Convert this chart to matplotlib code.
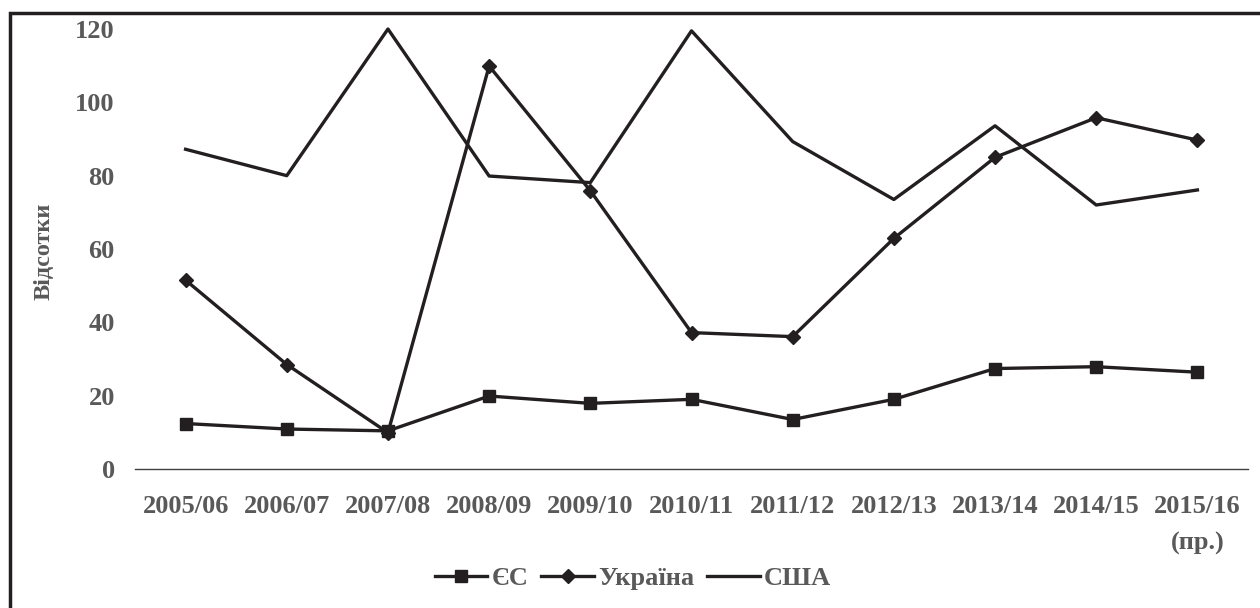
import matplotlib
matplotlib.use("Agg")
import matplotlib.pyplot as plt
from matplotlib.patches import Rectangle

# Data
years = ["2005/06", "2006/07", "2007/08", "2008/09", "2009/10", "2010/11",
         "2011/12", "2012/13", "2013/14", "2014/15", "2015/16\n(пр.)"]
eu = [12.4, 10.9, 10.4, 19.9, 17.9, 19.0, 13.5, 19.0, 27.4, 27.9, 26.4]
ukraine = [51.5, 28.5, 9.9, 109.9, 75.9, 37.2, 36.1, 62.9, 85.0, 95.8, 89.7]
usa = [87.2, 80.0, 120.0, 79.9, 78.1, 119.5, 89.3, 73.5, 93.6, 72.0, 76.1]

series_names = ["ЄС", "Україна", "США"]

text_color = "#595959"
line_color = "#231f20"
fs = 19

plt.rcParams['font.family'] = ['Liberation Serif', 'DejaVu Serif']
plt.rcParams['font.weight'] = 'bold'
plt.rcParams['font.size'] = fs

fig = plt.figure(figsize=(12.6, 6.08), dpi=100)
ax = fig.add_axes([135 / 1260, 1 - 469 / 608, (1248 - 135) / 1260, 440 / 608])

x = list(range(len(years)))
ax.plot(x, eu, color=line_color, lw=2.4, marker="s", markersize=8,
        label=series_names[0], clip_on=False)
ax.plot(x, ukraine, color=line_color, lw=2.4, marker="D", markersize=7,
        label=series_names[1], clip_on=False)
ax.plot(x, usa, color=line_color, lw=2.4, label=series_names[2], clip_on=False)

ax.set_xlim(-0.5, len(years) - 0.5)
ax.set_ylim(0, 120)
ax.set_yticks(range(0, 121, 20))
ax.set_xticks(x)
ax.set_xticklabels(years, linespacing=1.75, va="top")

for side in ["top", "right", "left"]:
    ax.spines[side].set_visible(False)
ax.spines["bottom"].set_color("#404040")
ax.spines["bottom"].set_linewidth(1.0)

ax.tick_params(axis="both", length=0, colors=text_color, labelsize=fs)
ax.tick_params(axis="y", pad=14.5)
ax.tick_params(axis="x", pad=19)
for lbl in ax.get_xticklabels() + ax.get_yticklabels():
    lbl.set_fontweight("bold")

fig.text(44 / 1260, 1 - 251 / 608, "Відсотки", rotation=90, ha="center",
         va="center", color=text_color, fontsize=17.5, fontweight="bold")

leg = fig.legend(loc="center", bbox_to_anchor=(633 / 1260, 1 - 578 / 608), ncol=3,
                 frameon=False, handlelength=2.0, handletextpad=0.15,
                 columnspacing=0.5, fontsize=fs)
for t in leg.get_texts():
    t.set_color(text_color)
    t.set_fontweight("bold")

# outer chart frame (right and bottom edges fall outside the picture)
fig.patches.append(Rectangle((10 / 1260, -0.05), 1.2, 1 - 12.5 / 608 + 0.05,
                             transform=fig.transFigure, fill=False,
                             edgecolor="#231f20", lw=2.5))

fig.savefig("out.png", dpi=100)
